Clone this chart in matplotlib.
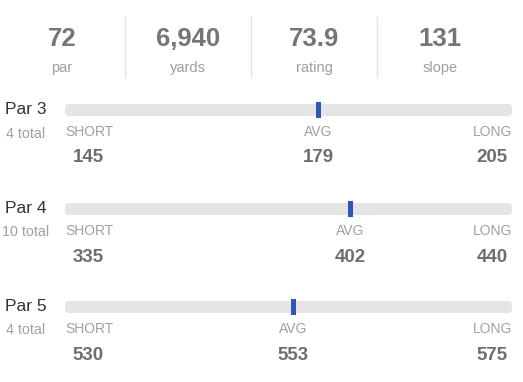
import matplotlib.pyplot as plt
from matplotlib.patches import FancyBboxPatch, Rectangle

plt.rcParams['font.family'] = ['Liberation Sans', 'DejaVu Sans']

# ── Data ───────────────────────────────────────────────
stat_values = ['72', '6,940', '73.9', '131']
stat_labels = ['par', 'yards', 'rating', 'slope']

par_names = ['Par 3', 'Par 4', 'Par 5']
par_counts = [4, 10, 4]
short_yds = [145, 335, 530]
avg_yds = [179, 402, 553]
long_yds = [205, 440, 575]

# ── Layout (pixels) ────────────────────────────────────
W, H = 523, 382
track_x0, track_x1 = 65, 512
row_y = [110, 209, 307]
col_x = [62, 188, 314, 440]
divider_x = [125, 251, 377]

fig = plt.figure(figsize=(W / 100, H / 100), dpi=100)
ax = fig.add_axes([0, 0, 1, 1])
ax.set_xlim(0, W)
ax.set_ylim(H, 0)
ax.axis('off')

# header stats
for x, val, lab in zip(col_x, stat_values, stat_labels):
    ax.text(x, 38.5, val, ha='center', va='center', fontsize=18.5,
            fontweight='bold', color='#757575')
    ax.text(x, 68, lab, ha='center', va='center', fontsize=10.5, color='#9e9e9e')
for x in divider_x:
    ax.plot([x, x], [17, 77], color='#e3e3e3', lw=1)

# par rows
for y, name, cnt, s, a, l in zip(row_y, par_names, par_counts, short_yds, avg_yds, long_yds):
    ax.text(26, y - 0.5, name, ha='center', va='center', fontsize=12.5, color='#333333')
    ax.text(26, y + 23.5, f'{cnt} total', ha='center', va='center', fontsize=10.3,
            color='#a0a0a0')

    track = FancyBboxPatch((track_x0, y - 6), track_x1 - track_x0, 12,
                           boxstyle='round,pad=0,rounding_size=4',
                           fc='#e5e5e5', ec='none')
    ax.add_patch(track)

    frac = (a - s) / (l - s)
    mx = track_x0 + frac * (track_x1 - track_x0)
    ax.add_patch(Rectangle((mx - 2.5, y - 8), 5, 16, fc='#2a57b8', ec='none'))

    ax.text(track_x0, y + 22, 'SHORT', ha='left', va='center', fontsize=10,
            color='#a0a0a0')
    ax.text(mx, y + 22, 'AVG', ha='center', va='center', fontsize=10, color='#a0a0a0')
    ax.text(track_x1, y + 22, 'LONG', ha='right', va='center', fontsize=10,
            color='#a0a0a0')

    ax.text(88, y + 48, str(s), ha='center', va='center', fontsize=13.5,
            fontweight='bold', color='#6e6e6e')
    ax.text(mx, y + 48, str(a), ha='center', va='center', fontsize=13.5,
            fontweight='bold', color='#6e6e6e')
    ax.text(492, y + 48, str(l), ha='center', va='center', fontsize=13.5,
            fontweight='bold', color='#6e6e6e')

plt.savefig('out.png', dpi=100)
